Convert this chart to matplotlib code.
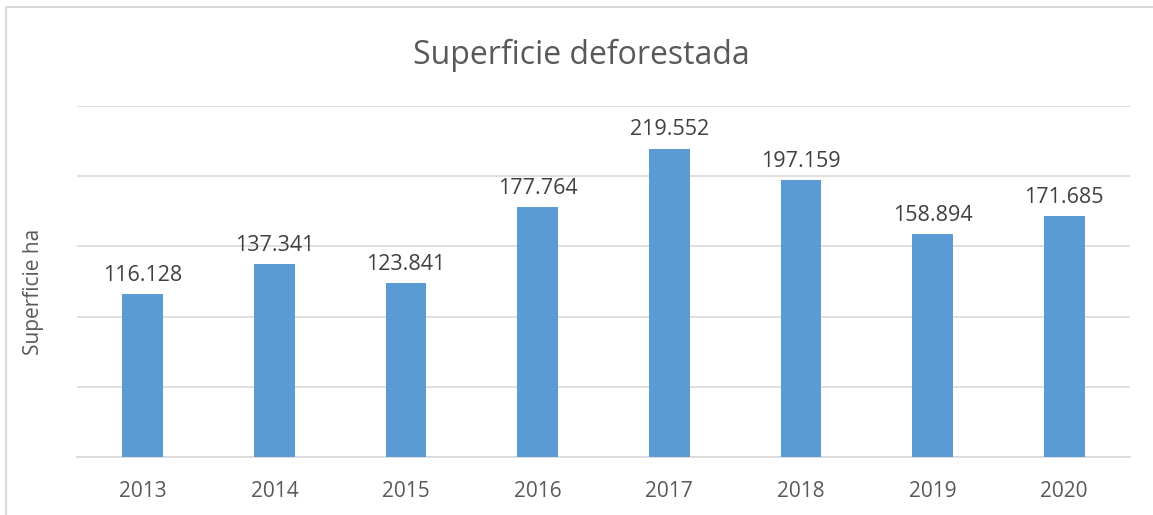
import matplotlib.pyplot as plt
from matplotlib.patches import Rectangle

years = ["2013", "2014", "2015", "2016", "2017", "2018", "2019", "2020"]
area_ha = [116128, 137341, 123841, 177764, 219552, 197159, 158894, 171685]
labels = ["116.128", "137.341", "123.841", "177.764", "219.552", "197.159", "158.894", "171.685"]

plt.rcParams['font.family'] = ['Open Sans', 'DejaVu Sans']

fig = plt.figure(figsize=(11.53, 5.15), dpi=100)
ax = fig.add_axes([0.0668, 0.1126, 0.9132, 0.6814])

# chart frame (open to the right and bottom)
fig.patches.append(Rectangle((6 / 1153, -0.5), 3.0, 1 - 7 / 515 + 0.5,
                             transform=fig.transFigure, fill=False,
                             edgecolor='#d9d9d9', linewidth=1.5))

x = range(len(years))
bars = ax.bar(x, area_ha, width=0.31, color='#5b9bd5', zorder=3)

for b, lab in zip(bars, labels):
    ax.annotate(lab, (b.get_x() + b.get_width() / 2, b.get_height()),
                xytext=(0, 6), textcoords='offset points',
                ha='center', va='bottom', fontsize=15.5, color='#404040')

ax.set_xlim(-0.5, len(years) - 0.5)
ax.set_ylim(0, 250000)
ax.set_yticks(range(0, 250001, 50000))
ax.set_yticklabels([])
ax.tick_params(axis='y', length=0)
ax.tick_params(axis='x', length=0, labelsize=15, labelcolor='#595959', pad=17)
ax.set_xticks(list(x))
ax.set_xticklabels(years)
ax.grid(axis='y', color='#d9d9d9', linewidth=1.2, zorder=0)
for s in ['top', 'right', 'left']:
    ax.spines[s].set_visible(False)
ax.spines['bottom'].set_color('#d9d9d9')
ax.spines['bottom'].set_linewidth(1.2)

ax.set_ylabel("Superficie ha", fontsize=15, color='#595959')
ax.yaxis.set_label_coords(-0.031, 0.47)
fig.text(0.504, 0.892, "Superficie deforestada", ha='center', va='center',
         fontsize=23, color='#595959')

fig.savefig("out.png", dpi=100)
